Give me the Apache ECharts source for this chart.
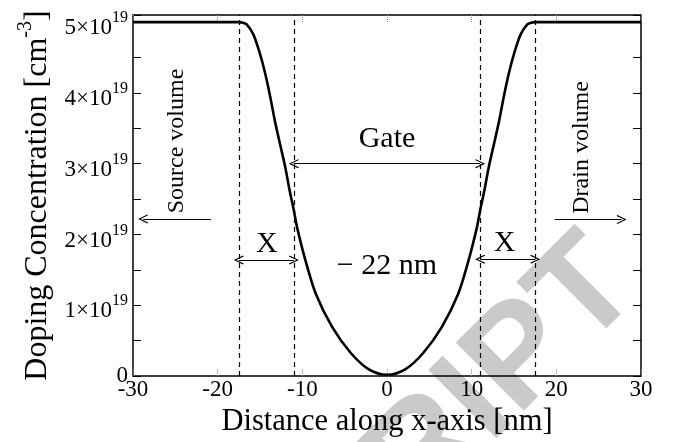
<!DOCTYPE html>
<html>
<head>
<meta charset="utf-8">
<script src="https://cdn.jsdelivr.net/npm/echarts@6/dist/echarts.min.js"></script>
<style>html,body{margin:0;padding:0;background:#fff;}#c{width:674px;height:442px;}</style>
</head>
<body>
<div id="c"></div>
<script>
// Doping profile (x in nm, concentration in units of 1e19 cm^-3)
const xValues = [-30, -17.5, -17.0, -16.6, -15.8, -15.0, -14.4, -13.8, -13.2, -12.6, -12.0, -11.5, -11.0, -10.6, -9.6, -8.4, -6.5, -4.3, -2.2, 0,
                 2.2, 4.3, 6.5, 8.4, 9.6, 10.6, 11.0, 11.5, 12.0, 12.6, 13.2, 13.8, 14.4, 15.0, 15.8, 16.6, 17.0, 17.5, 30];
const dopingValues = [5.0, 5.0, 4.99, 4.97, 4.83, 4.55, 4.28, 3.95, 3.58, 3.26, 2.94, 2.62, 2.34, 2.09, 1.62, 1.16, 0.70, 0.33, 0.10, 0.02,
                      0.10, 0.33, 0.70, 1.16, 1.62, 2.09, 2.34, 2.62, 2.94, 3.26, 3.58, 3.95, 4.28, 4.55, 4.83, 4.97, 4.99, 5.0, 5.0];
const xTicks = [-30, -20, -10, 0, 10, 20, 30];
const yTickLabels = [0, 1, 2, 3, 4, 5];
const dashedX = [-17.5, -11, 11, 17.5];
// arrows: [x1, y1, x2, y2, headAtStart, headAtEnd]
const arrows = [
  [-11, 3.0, 11, 3.0, true, true],
  [-17.5, 1.64, -11, 1.64, true, true],
  [11, 1.65, 17.5, 1.65, true, true],
  [-20.8, 2.22, -28.8, 2.22, false, true],
  [19.8, 2.21, 27.7, 2.21, false, true]
];
// text annotations: [text, x, y, rotate, fontSize]
const notes = [
  ['Gate', 0, 3.35, 0, 30],
  ['\u2212 22 nm', 0, 1.55, 0, 30],
  ['X', -14.2, 1.86, 0, 30],
  ['X', 13.9, 1.88, 0, 30],
  ['Source volume', -24.8, 3.32, 90, 24],
  ['Drain volume', 23.0, 3.23, 90, 24]
];

const FF = 'Liberation Serif';
const chevron = 'path://M5,0 L10,9 L9,9.8 L5,2.4 L1,9.8 L0,9 Z';

const lineData = xValues.map((x, i) => [x, dopingValues[i]]);

const chart = echarts.init(document.getElementById('c'), null, {renderer: 'canvas'});
const yLabelFmt = v => {
  if (Math.abs(v) < 1e-9) return '{z|0}';
  if (Math.abs(v - Math.round(v)) < 1e-9 && yTickLabels.indexOf(Math.round(v)) >= 0) return '{m|' + Math.round(v) + '\u00d710}{s|19}';
  return '';
};
const xTickStyle = {show: true, inside: true, length: 7, lineStyle: {color: '#888', type: [1, 1], width: 1}};
const yTickStyle = {show: true, inside: true, length: 8, lineStyle: {color: '#000', width: 1}};
chart.setOption({
  animation: false,
  backgroundColor: '#fff',
  grid: {left: 133, right: 33, top: 15, bottom: 58, show: true, borderColor: '#000', borderWidth: 1.5, backgroundColor: 'transparent'},
  xAxis: [{
    type: 'value', min: xTicks[0], max: xTicks[xTicks.length - 1], interval: 10, position: 'bottom',
    axisLine: {show: false, onZero: false}, splitLine: {show: false},
    axisTick: xTickStyle,
    axisLabel: {margin: 2, fontFamily: FF, fontSize: 23, color: '#000'},
    name: 'Distance along x-axis [nm]', nameLocation: 'middle', nameGap: 24,
    nameTextStyle: {fontFamily: FF, fontSize: 30.5, color: '#000'}
  }, {
    type: 'value', min: xTicks[0], max: xTicks[xTicks.length - 1], interval: 10, position: 'top',
    axisLine: {show: false, onZero: false}, splitLine: {show: false}, axisLabel: {show: false},
    axisTick: xTickStyle
  }],
  yAxis: [{
    type: 'value', min: 0, max: 5.1, interval: 0.5, position: 'left',
    axisLine: {show: false, onZero: false}, splitLine: {show: false},
    axisTick: yTickStyle,
    axisLabel: {
      margin: 5, formatter: yLabelFmt, color: '#000',
      rich: {
        m: {fontFamily: FF, fontSize: 23, color: '#000', padding: [12, 0, 0, 0]},
        s: {fontFamily: FF, fontSize: 16, color: '#000', padding: [0, 0, 8, 0]},
        z: {fontFamily: FF, fontSize: 23, color: '#000'}
      }
    },
    name: '{m|Doping Concentration [cm}{s|-3}{m|]}', nameLocation: 'middle', nameGap: 70,
    nameTextStyle: {
      color: '#000',
      rich: {
        m: {fontFamily: FF, fontSize: 32, color: '#000', padding: [14, 0, 0, 0]},
        s: {fontFamily: FF, fontSize: 20, color: '#000', padding: [0, 0, 10, 0]}
      }
    }
  }, {
    type: 'value', min: 0, max: 5.1, interval: 0.5, position: 'right',
    axisLine: {show: false, onZero: false}, splitLine: {show: false}, axisLabel: {show: false},
    axisTick: yTickStyle
  }],
  graphic: [{
    type: 'text', z: -10, x: 666, y: 313, rotation: Math.PI / 4, silent: true,
    style: {text: 'MANUSCRIPT', fill: '#cacaca', font: 'bold 140px "Liberation Sans"', textAlign: 'right', textVerticalAlign: 'bottom'}
  }],
  series: [{
    type: 'line', data: lineData, showSymbol: false, smooth: 0.3, z: 5,
    lineStyle: {color: '#000', width: 2.6}
  }, {
    type: 'line', data: [], z: 3,
    markLine: {
      silent: true, symbol: ['none', 'none'], label: {show: false},
      lineStyle: {color: '#000', type: [5, 4], width: 1.2},
      data: dashedX.map(v => ({xAxis: v}))
    }
  }, {
    type: 'line', data: [], z: 4,
    markLine: {
      silent: true, symbolSize: [9, 10], label: {show: false},
      lineStyle: {color: '#000', type: 'solid', width: 1},
      data: arrows.map(a => [
        {coord: [a[0], a[1]], symbol: a[4] ? chevron : 'none'},
        {coord: [a[2], a[3]], symbol: a[5] ? chevron : 'none'}
      ])
    },
    markPoint: {
      silent: true, symbol: 'circle', symbolSize: 0,
      data: notes.map(n => ({
        coord: [n[1], n[2]],
        label: {show: true, position: 'inside', formatter: n[0], rotate: n[3], fontFamily: FF, fontSize: n[4], color: '#000'}
      }))
    }
  }]
});
</script>
</body>
</html>
